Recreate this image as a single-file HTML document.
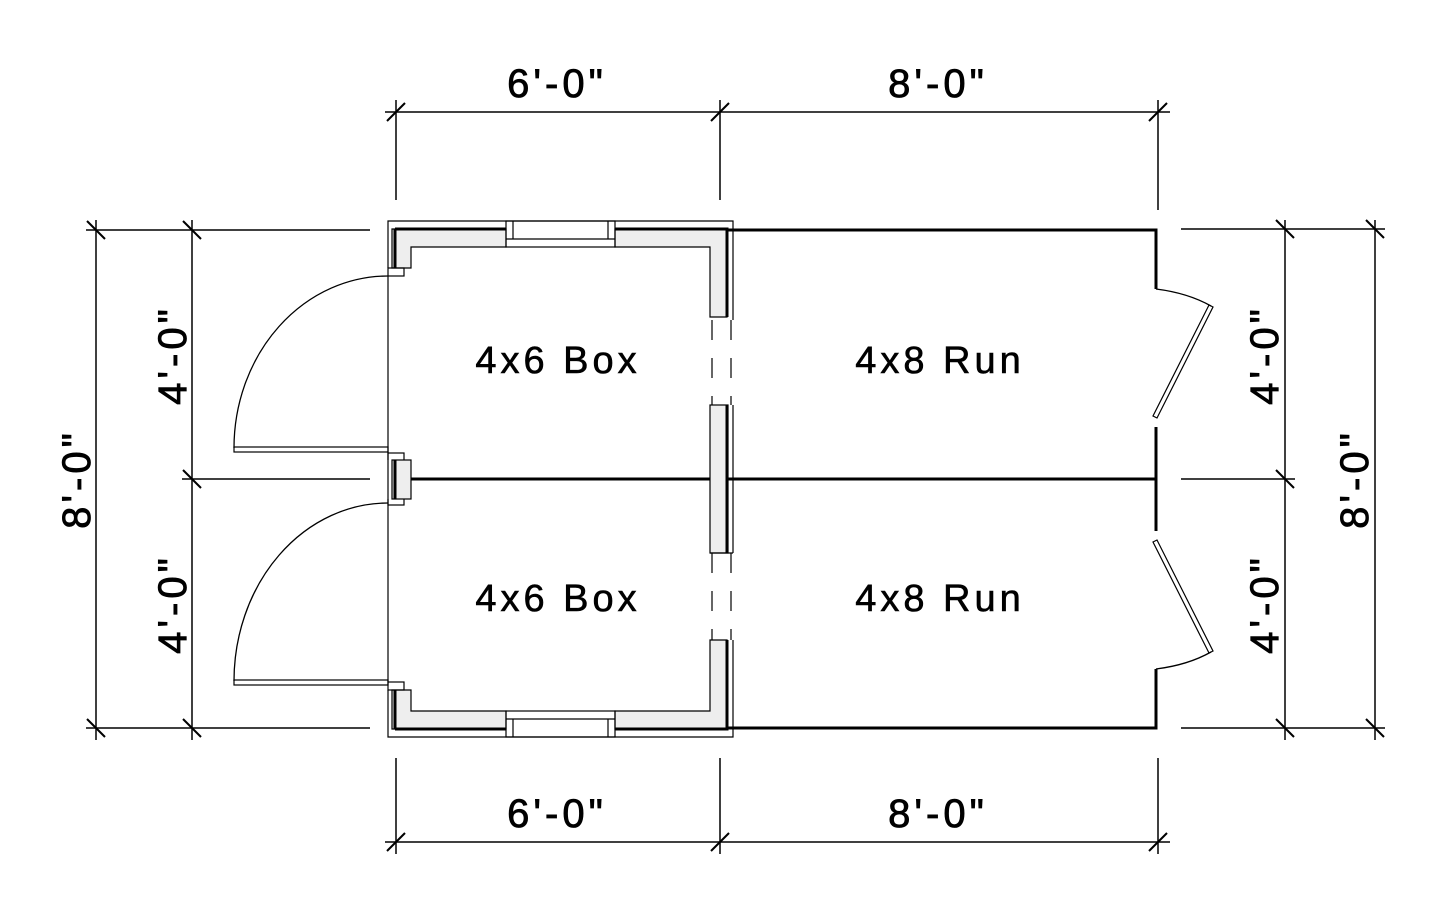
<!DOCTYPE html>
<html><head><meta charset="utf-8"><style>
html,body{margin:0;padding:0;background:#fff;}
svg{display:block}
text{font-family:"Liberation Sans",sans-serif;fill:#000;}
</style></head><body>
<svg width="1440" height="900" viewBox="0 0 1440 900" xmlns="http://www.w3.org/2000/svg">
<g stroke="#000" fill="none" stroke-width="1.5">
<line x1="385" y1="112" x2="1170" y2="112"/>
<line x1="396" y1="100" x2="396" y2="200"/>
<line x1="720" y1="100" x2="720" y2="200"/>
<line x1="1158" y1="100" x2="1158" y2="210"/>
<line x1="387" y1="121" x2="405" y2="103" stroke-width="2"/>
<line x1="711" y1="121" x2="729" y2="103" stroke-width="2"/>
<line x1="1149" y1="121" x2="1167" y2="103" stroke-width="2"/>
<line x1="385" y1="842" x2="1170" y2="842"/>
<line x1="396" y1="758" x2="396" y2="854"/>
<line x1="720" y1="758" x2="720" y2="854"/>
<line x1="1158" y1="758" x2="1158" y2="854"/>
<line x1="387" y1="851" x2="405" y2="833" stroke-width="2"/>
<line x1="711" y1="851" x2="729" y2="833" stroke-width="2"/>
<line x1="1149" y1="851" x2="1167" y2="833" stroke-width="2"/>
<line x1="96" y1="220" x2="96" y2="740"/>
<line x1="192" y1="220" x2="192" y2="740"/>
<line x1="86" y1="230" x2="370" y2="230"/>
<line x1="182" y1="479" x2="370" y2="479"/>
<line x1="86" y1="728" x2="370" y2="728"/>
<line x1="87" y1="221" x2="105" y2="239" stroke-width="2"/>
<line x1="87" y1="719" x2="105" y2="737" stroke-width="2"/>
<line x1="183" y1="221" x2="201" y2="239" stroke-width="2"/>
<line x1="183" y1="470" x2="201" y2="488" stroke-width="2"/>
<line x1="183" y1="719" x2="201" y2="737" stroke-width="2"/>
<line x1="1285" y1="220" x2="1285" y2="740"/>
<line x1="1375" y1="220" x2="1375" y2="740"/>
<line x1="1181" y1="229" x2="1385" y2="229"/>
<line x1="1181" y1="479" x2="1295" y2="479"/>
<line x1="1181" y1="728" x2="1385" y2="728"/>
<line x1="1276" y1="220" x2="1294" y2="238" stroke-width="2"/>
<line x1="1276" y1="470" x2="1294" y2="488" stroke-width="2"/>
<line x1="1276" y1="719" x2="1294" y2="737" stroke-width="2"/>
<line x1="1366" y1="220" x2="1384" y2="238" stroke-width="2"/>
<line x1="1366" y1="719" x2="1384" y2="737" stroke-width="2"/>
</g>
<g stroke="#000" stroke-width="1.2">
<path d="M388,268 V221 H733 V320" fill="none"/>
<path d="M388,690 V737 H733 V640" fill="none"/>
<line x1="388" y1="276" x2="388" y2="460"/>
<line x1="388" y1="499" x2="388" y2="682"/>
<path d="M392,229 H506 V247 H411 V268 H392 Z" fill="#eee"/>
<path d="M615,229 H727 V317 H710 V247 H615 Z" fill="#eee"/>
<path d="M392,729 H506 V711 H411 V690 H392 Z" fill="#eee"/>
<path d="M615,729 H727 V640 H710 V711 H615 Z" fill="#eee"/>
<rect x="506" y="221" width="109" height="26" fill="none"/>
<line x1="506" y1="239" x2="615" y2="239"/>
<line x1="513" y1="221" x2="513" y2="239"/><line x1="608" y1="221" x2="608" y2="239"/>
<rect x="506" y="711" width="109" height="26" fill="none"/>
<line x1="506" y1="719" x2="615" y2="719"/>
<line x1="513" y1="719" x2="513" y2="737"/><line x1="608" y1="719" x2="608" y2="737"/>
<rect x="388" y="268" width="16" height="8" fill="none"/>
<rect x="388" y="682" width="16" height="8" fill="none"/>
<rect x="388" y="453" width="16" height="52" fill="none"/>
<rect x="392" y="460" width="19" height="39" fill="#eee"/>
<rect x="710" y="405" width="18" height="148" fill="#eee"/>
<line x1="733" y1="405" x2="733" y2="553"/>
<line x1="710" y1="553" x2="733" y2="553"/>
</g>
<g stroke="#000" fill="none">
<path d="M395,229 H506 M615,229 H727 V317" stroke-width="3"/>
<path d="M395,229 V268" stroke-width="3"/>
<path d="M395,729 H506 M615,729 H727 V640" stroke-width="3"/>
<path d="M395,729 V690" stroke-width="3"/>
<line x1="395" y1="460" x2="395" y2="499" stroke-width="3"/>
<line x1="727" y1="405" x2="727" y2="553" stroke-width="3"/>
<line x1="411" y1="479" x2="710" y2="479" stroke-width="3"/>
<line x1="728" y1="479" x2="1156" y2="479" stroke-width="3"/>
<line x1="712" y1="320" x2="712" y2="405" stroke-width="1.2" stroke-dasharray="20,18"/>
<line x1="731" y1="320" x2="731" y2="405" stroke-width="1.2" stroke-dasharray="20,18"/>
<line x1="712" y1="553" x2="712" y2="640" stroke-width="1.2" stroke-dasharray="20,18"/>
<line x1="731" y1="553" x2="731" y2="640" stroke-width="1.2" stroke-dasharray="20,18"/>
<path d="M727,230 H1156 V289" stroke-width="3"/>
<path d="M727,728 H1156 V669" stroke-width="3"/>
<path d="M1156,427 V531" stroke-width="3"/>
<path d="M388,276 A154,172 0 0 0 234,448" stroke-width="1.3"/>
<rect x="234" y="447" width="154" height="5" stroke-width="1.2"/>
<path d="M388,503 A154,178 0 0 0 234,681" stroke-width="1.3"/>
<rect x="234" y="680" width="154" height="5" stroke-width="1.2"/>
<path d="M1156,289 Q1188,293 1211,306" stroke-width="1.3"/>
<path d="M1209,305 L1213,307 L1157,418 L1153,416 Z" stroke-width="1.2"/>
<path d="M1156,669 Q1188,665 1211,652" stroke-width="1.3"/>
<path d="M1209,653 L1213,651 L1157,540 L1153,542 Z" stroke-width="1.2"/>
</g>
<g font-size="40" text-anchor="middle" letter-spacing="4" stroke="#000" stroke-width="0.8">
<text x="557" y="97">6'-0"</text>
<text x="938" y="97">8'-0"</text>
<text x="557" y="827">6'-0"</text>
<text x="938" y="827">8'-0"</text>
<text transform="translate(90,479) rotate(-90)">8'-0"</text>
<text transform="translate(186,355) rotate(-90)">4'-0"</text>
<text transform="translate(186,604) rotate(-90)">4'-0"</text>
<text transform="translate(1278,355) rotate(-90)">4'-0"</text>
<text transform="translate(1278,604) rotate(-90)">4'-0"</text>
<text transform="translate(1368,479) rotate(-90)">8'-0"</text>
</g>
<g font-size="38" text-anchor="middle" letter-spacing="4" stroke="#000" stroke-width="0.6">
<text x="558" y="373">4x6 Box</text>
<text x="940" y="373">4x8 Run</text>
<text x="558" y="611">4x6 Box</text>
<text x="940" y="611">4x8 Run</text>
</g>
</svg>
</body></html>
